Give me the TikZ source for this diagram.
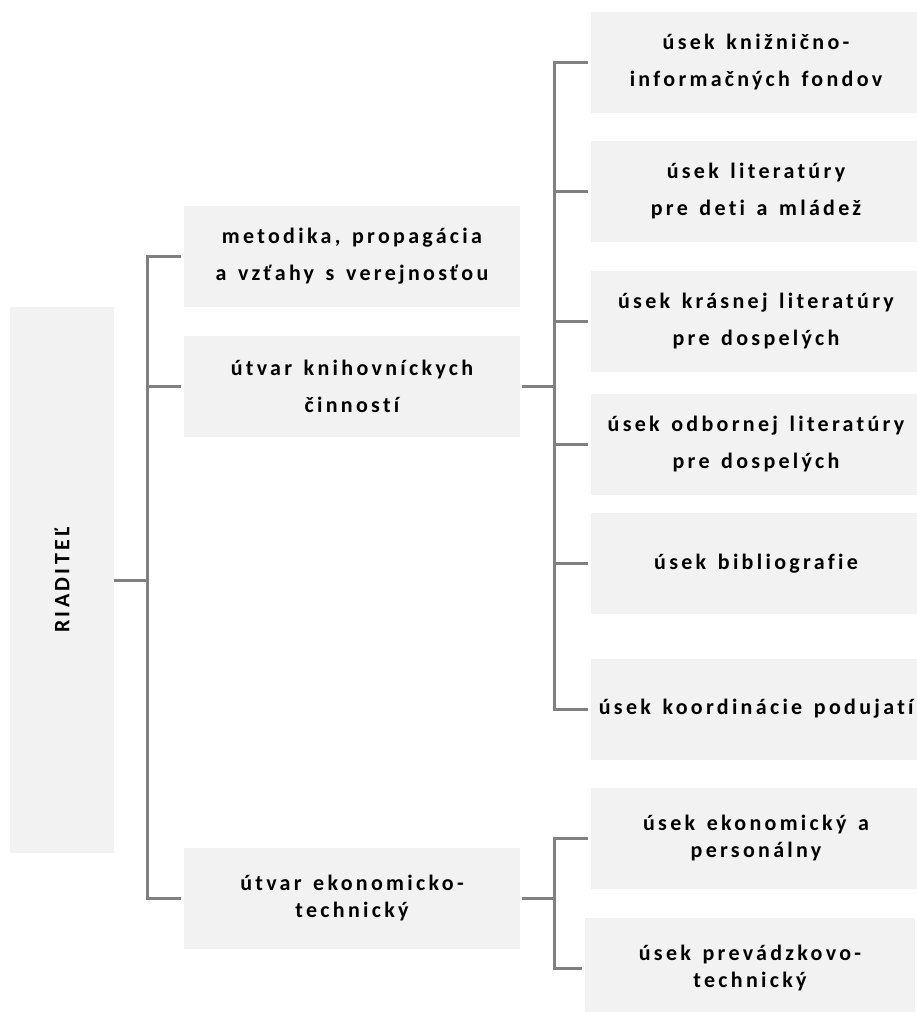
\documentclass[tikz,border=0pt]{standalone}
\usepackage{fontspec}
\newfontfamily\orgfont{Carlito}[LetterSpace=15, WordSpace=1.4, Ligatures=CommonOff]
\definecolor{boxgray}{HTML}{F2F2F2}
\definecolor{linegray}{HTML}{808080}
\tikzset{
  box/.style={fill=boxgray, inner sep=0pt, align=center, text=black},
  lbox/.style={box, minimum width=336, minimum height=101},
  rbox/.style={box, minimum width=330, minimum height=101},
  wide/.style={font=\orgfont\bfseries\fontsize{22}{37}\selectfont},
  tight/.style={font=\orgfont\bfseries\fontsize{22}{27}\selectfont},
  conn/.style={draw=linegray, line width=3pt}
}
\begin{document}
\begin{tikzpicture}[x=1pt, y=-1pt]
            \clip (0,0) rectangle (917,1012);
            \fill[white] (0,0) rectangle (917,1012);
            % director
            \node[box, wide, rotate=90, minimum width=546, minimum height=104] (riad) at (62,580) {RIADITEĽ};
            % middle column
            \node[lbox, wide] (met) at (352,256) {metodika, propagácia\\a vzťahy s verejnosťou};
            \node[lbox, wide] (knih) at (352,386) {útvar knihovníckych\\činností};
            \node[lbox, tight] (ekon) at (352,898) {útvar ekonomicko-\\technický};
            % right column
            \node[rbox, wide] (fond) at (756,62.5) {úsek knižnično-\\informačných fondov};
            \node[rbox, wide] (deti) at (756,191.5) {úsek literatúry\\pre deti a mládež};
            \node[rbox, wide] (kras) at (756,321) {úsek krásnej literatúry\\pre dospelých};
            \node[rbox, wide] (odb) at (756,444.5) {úsek odbornej literatúry\\pre dospelých};
            \node[rbox, wide] (bibl) at (756,563.5) {úsek bibliografie};
            \node[rbox, wide, anchor=west, align=left, inner xsep=6] (kord) at (591,709) {úsek koordinácie podujatí};
            \node[rbox, tight] (eper) at (756,838.5) {úsek ekonomický a\\personálny};
            \node[rbox, tight] (prev) at (750,968) {úsek prevádzkovo-\\technický};
            % connectors
            \coordinate (lt) at (147,0);
            \coordinate (rt) at (554,0);
            \draw[conn] (riad.south) -- (riad.south -| lt);
            \draw[conn] ([xshift=-3pt]met.west) -- (met.west -| lt) -- (ekon.west -| lt) -- ([xshift=-3pt]ekon.west);
            \draw[conn] (knih.west -| lt) -- ([xshift=-3pt]knih.west);
            \draw[conn] ([xshift=2pt]knih.east) -- (knih.east -| rt);
            \draw[conn] ([xshift=-3pt]fond.west) -- (fond.west -| rt) -- (kord.west -| rt) -- ([xshift=-3pt]kord.west);
            \foreach \n in {deti,kras,odb,bibl}
              \draw[conn] (\n.west -| rt) -- ([xshift=-3pt]\n.west);
            \draw[conn] ([xshift=2pt]ekon.east) -- (ekon.east -| rt);
            \draw[conn] ([xshift=-3pt]eper.west) -- (eper.west -| rt) -- (prev.west -| rt) -- ([xshift=-3pt]prev.west);
        \end{tikzpicture}
\end{document}
